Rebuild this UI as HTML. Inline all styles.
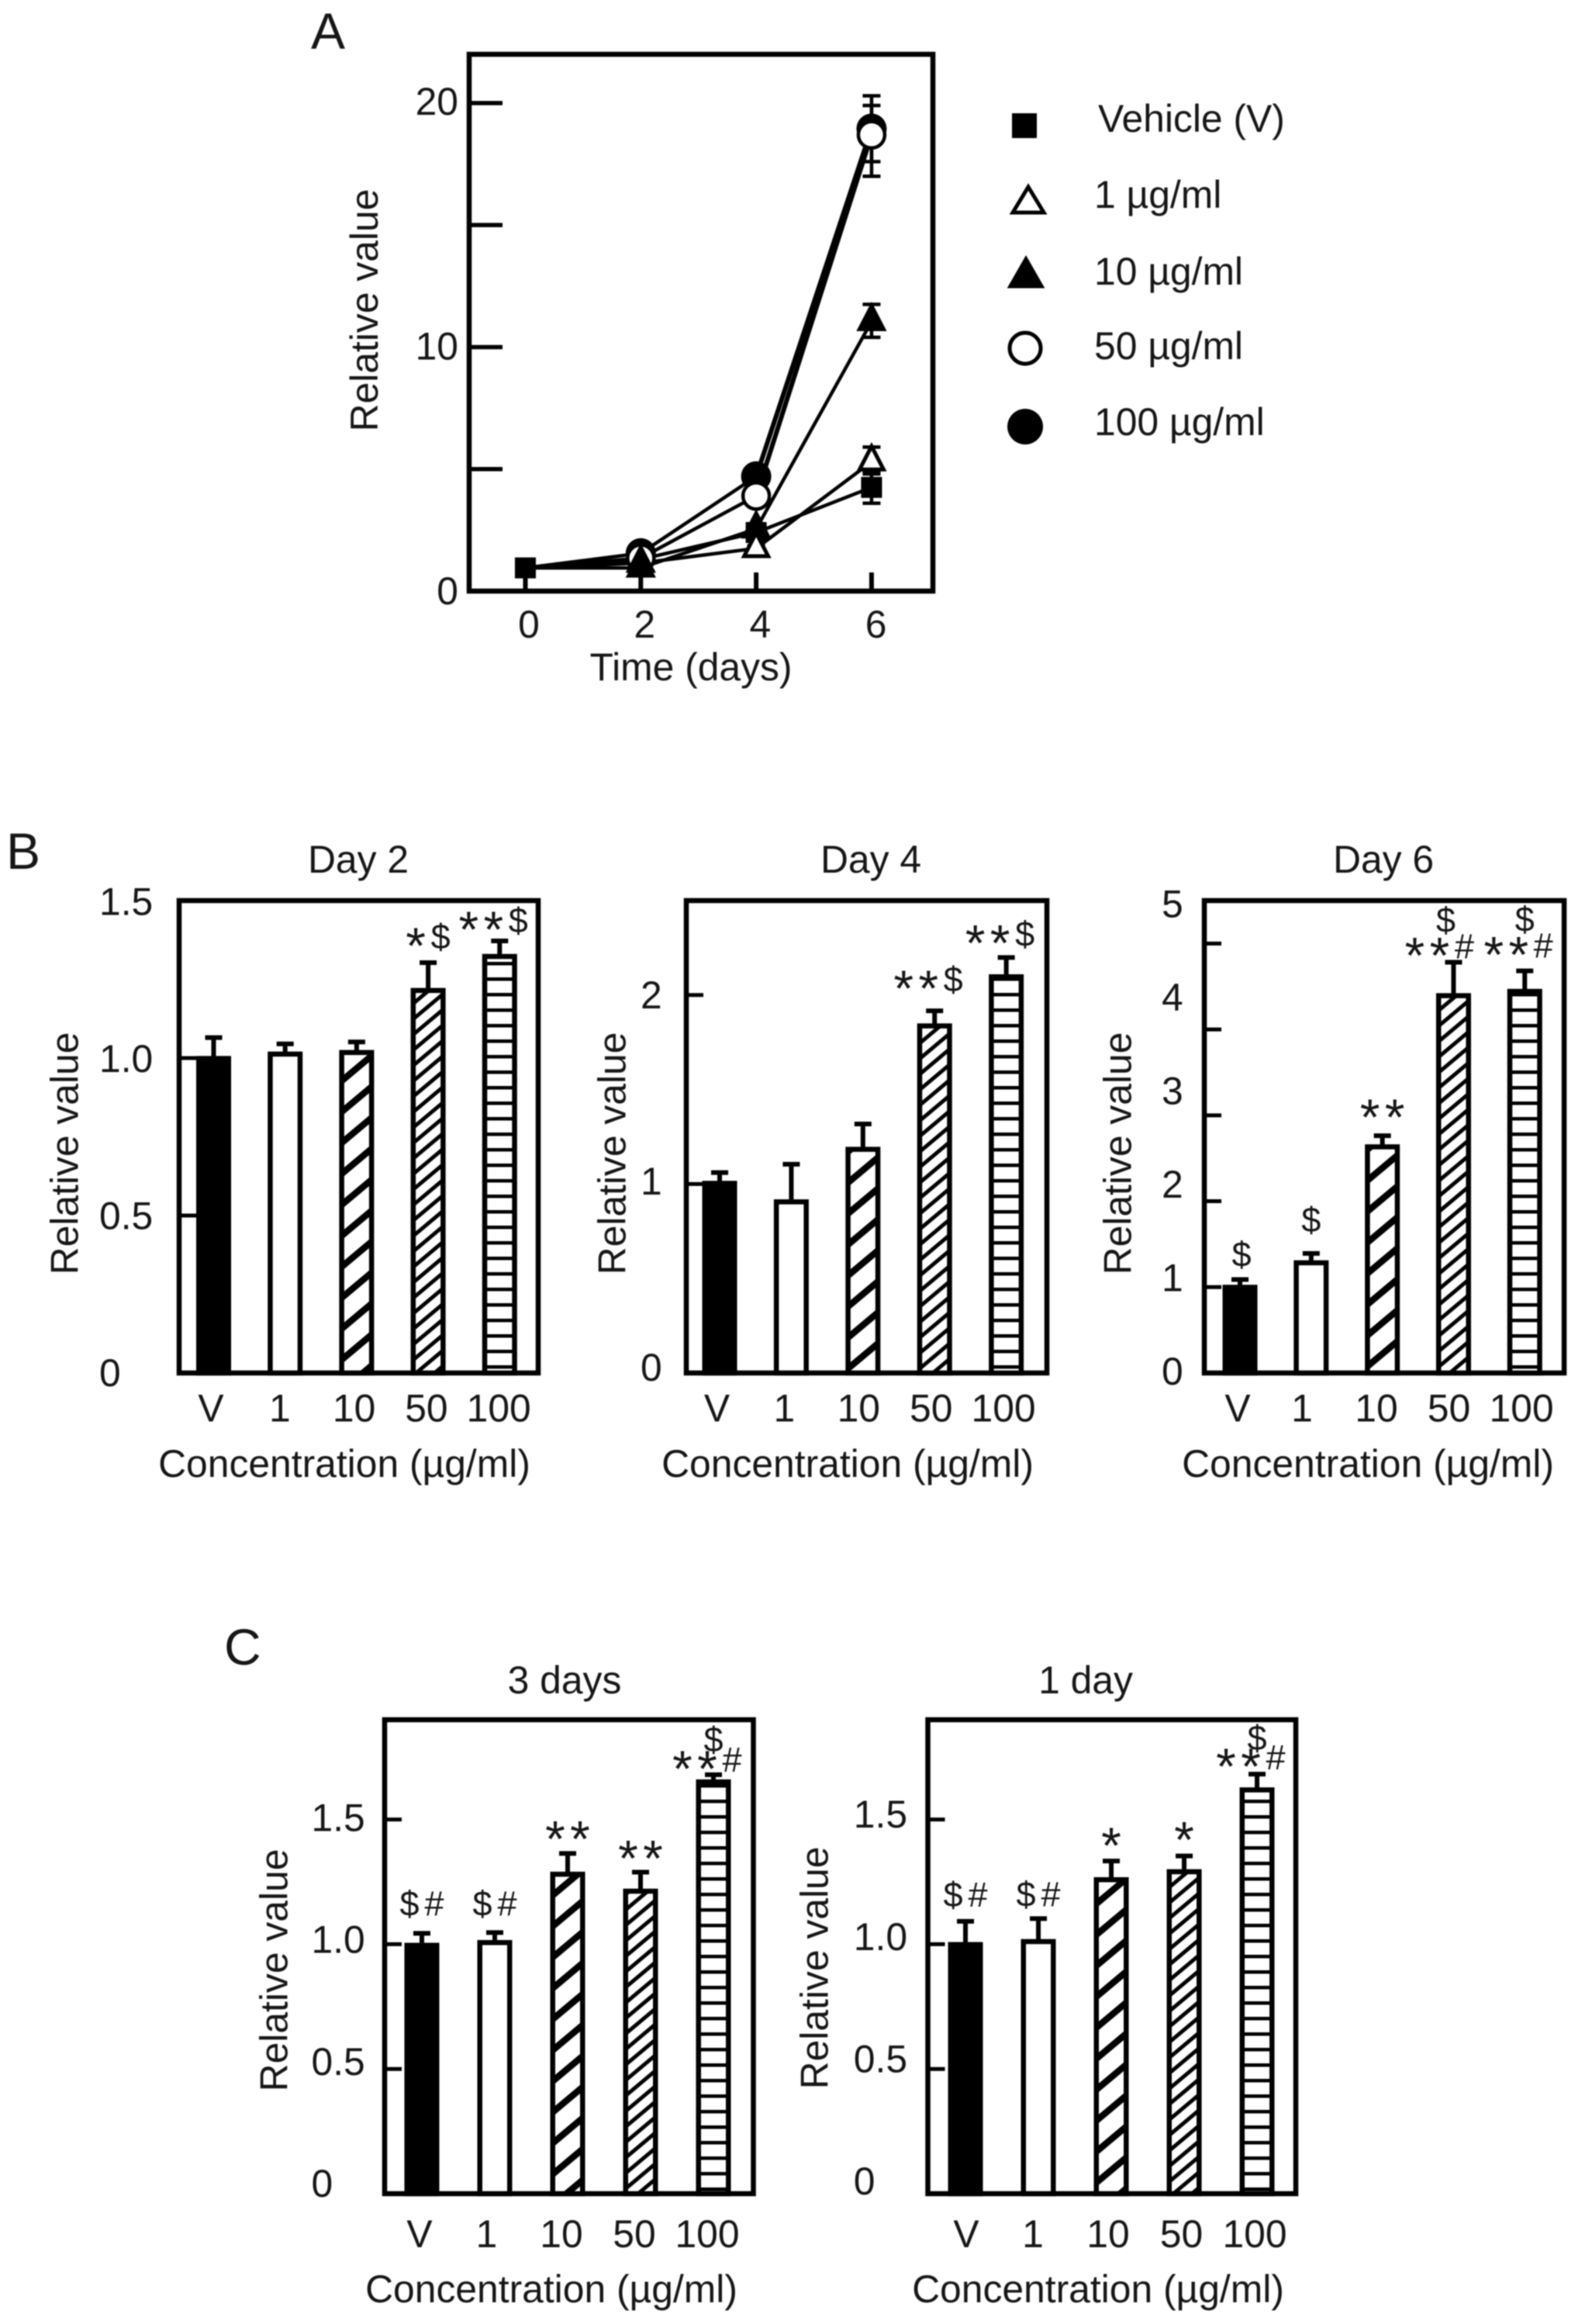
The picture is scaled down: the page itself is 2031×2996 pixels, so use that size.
<!DOCTYPE html>
<html lang="en">
<head>
<meta charset="utf-8">
<title>Relative value by time and concentration</title>
<style>
html,body{margin:0;padding:0;background:#fff;}
body{width:2031px;height:2996px;overflow:hidden;}
svg{display:block;filter:blur(0.8px);}
text{font-family:"Liberation Sans",Arial,sans-serif;font-size:49.8px;fill:#161616;}
.letter{font-size:66px;}
.frame{fill:none;stroke:#000;stroke-width:6.5;}
.mid{text-anchor:middle;}
</style>
</head>
<body>
<svg id="figure" xmlns="http://www.w3.org/2000/svg" width="2031" height="2996" viewBox="0 0 2031 2996">
  <defs>
    <pattern id="hatch-wide" patternUnits="userSpaceOnUse" width="30.6" height="30.6" patternTransform="rotate(-40)">
      <rect width="30.6" height="30.6" fill="#fff"/>
      <rect y="0" width="30.6" height="8.5" fill="#000"/>
    </pattern>
    <pattern id="hatch-fine" patternUnits="userSpaceOnUse" width="15.3" height="15.3" patternTransform="rotate(-40)">
      <rect width="15.3" height="15.3" fill="#fff"/>
      <rect y="0" width="15.3" height="5" fill="#000"/>
    </pattern>
    <pattern id="hatch-horizontal" patternUnits="userSpaceOnUse" width="20" height="20">
      <rect width="20" height="20" fill="#fff"/>
      <rect y="0" width="20" height="4.5" fill="#000"/>
    </pattern>
  </defs>
  <rect width="2031" height="2996" fill="#fff"/>

  <text class="letter" x="401" y="63">A</text>
  <text class="letter" x="8" y="1120">B</text>
  <text class="letter" x="289" y="2146">C</text>

  <g id="panel-a">
    <rect class="frame" x="605" y="70" width="598" height="692"/>
    <text class="mid" transform="translate(487 400) rotate(-90)">Relative value</text>
    <text class="mid" x="891" y="877">Time (days)</text>
  </g>

  <g id="legend">
    <g>
      <rect x="1305" y="146" width="32" height="32" fill="#000"/>
      <text x="1416" y="170">Vehicle (V)</text>
    </g>
    <g>
      <polygon points="1326,241 1346,274 1306,274" fill="#fff" stroke="#000" stroke-width="5"/>
      <text x="1411" y="268">1 µg/ml</text>
    </g>
    <g>
      <polygon points="1323,334 1343,369 1303,369" fill="#000" stroke="#000" stroke-width="5"/>
      <text x="1411" y="367">10 µg/ml</text>
    </g>
    <g>
      <circle cx="1322" cy="449" r="20" fill="#fff" stroke="#000" stroke-width="5"/>
      <text x="1411" y="463">50 µg/ml</text>
    </g>
    <g>
      <circle cx="1322" cy="550" r="23" fill="#000"/>
      <text x="1411" y="561">100 µg/ml</text>
    </g>
  </g>

  <g id="panel-day2">
    <rect class="frame" x="231" y="1161" width="463" height="609"/>
    <text class="mid" x="462" y="1125">Day 2</text>
    <text class="mid" transform="translate(100.5 1487) rotate(-90)">Relative value</text>
    <text class="mid" x="444" y="1904">Concentration (µg/ml)</text>
  </g>
  <g id="panel-day4">
    <rect class="frame" x="885" y="1161" width="465" height="609"/>
    <text class="mid" x="1123" y="1125">Day 4</text>
    <text class="mid" transform="translate(806.5 1487) rotate(-90)">Relative value</text>
    <text class="mid" x="1093" y="1904">Concentration (µg/ml)</text>
  </g>
  <g id="panel-day6">
    <rect class="frame" x="1553" y="1161" width="464" height="609"/>
    <text class="mid" x="1784" y="1125">Day 6</text>
    <text class="mid" transform="translate(1458.5 1487) rotate(-90)">Relative value</text>
    <text class="mid" x="1764" y="1904">Concentration (µg/ml)</text>
  </g>
  <g id="panel-3days">
    <rect class="frame" x="496" y="2217" width="475.5" height="611"/>
    <text class="mid" x="728" y="2183">3 days</text>
    <text class="mid" transform="translate(370.5 2540) rotate(-90)">Relative value</text>
    <text class="mid" x="711" y="2968">Concentration (µg/ml)</text>
  </g>
  <g id="panel-1day">
    <rect class="frame" x="1196.5" y="2217" width="474.5" height="611"/>
    <text class="mid" x="1400" y="2183">1 day</text>
    <text class="mid" transform="translate(1067.5 2537) rotate(-90)">Relative value</text>
    <text class="mid" x="1416" y="2968">Concentration (µg/ml)</text>
  </g>
</svg>

<script>
// ---- Panel A data ----
const growthDays = [0, 2, 4, 6];
const growthYTicks = [5, 10, 15, 20];
const growthYLabels = ['0', '10', '20'];
const vehicleValues = [0.95, 1.3, 2.4, 4.25];
const vehicleUpper = [0.95, 1.35, 2.5, 4.9];
const vehicleLower = [0.95, 1.25, 2.3, 3.6];
const conc1Values = [0.95, 1.15, 1.75, 5.3];
const conc1Upper = [0.95, 1.2, 1.85, 5.9];
const conc1Lower = [0.95, 1.1, 1.65, 4.8];
const conc10Values = [0.95, 0.95, 2.55, 11.05];
const conc10Upper = [0.95, 1, 2.7, 11.75];
const conc10Lower = [0.95, 0.9, 2.4, 10.4];
const conc50Values = [0.95, 1.35, 3.9, 18.7];
const conc50Upper = [0.95, 1.4, 4.1, 19.9];
const conc50Lower = [0.95, 1.3, 3.7, 17];
const conc100Values = [0.95, 1.55, 4.7, 18.95];
const conc100Upper = [0.95, 1.6, 4.9, 20.3];
const conc100Lower = [0.95, 1.5, 4.5, 17.6];

// ---- Bar panel data ----
const barCategories = ['V', '1', '10', '50', '100'];

const day2Values = [1.006, 1.02, 1.025, 1.222, 1.33];
const day2ErrorTops = [1.07, 1.05, 1.056, 1.308, 1.377];
const day2Ticks = [0.5, 1];
const day2TickLabels = ['0', '0.5', '1.0', '1.5'];
const day2Notes = ['', '', '', '*$', '**$'];

const day4Values = [1.016, 0.918, 1.196, 1.849, 2.109];
const day4ErrorTops = [1.069, 1.113, 1.326, 1.925, 2.207];
const day4Ticks = [1, 2];
const day4TickLabels = ['0', '1', '2'];
const day4Notes = ['', '', '', '**$', '**$'];

const day6Values = [1.025, 1.31, 2.66, 4.42, 4.47];
const day6ErrorTops = [1.106, 1.41, 2.78, 4.8, 4.7];
const day6Ticks = [1, 2, 3, 4, 5];
const day6TickLabels = ['0', '1', '2', '3', '4', '5'];
const day6Notes = ['$', '$', '**', '$|**#', '$|**#'];

const threeDaysValues = [1.005, 1.016, 1.29, 1.222, 1.66];
const threeDaysErrorTops = [1.05, 1.053, 1.37, 1.295, 1.686];
const threeDaysTicks = [0.5, 1, 1.5];
const threeDaysTickLabels = ['0', '0.5', '1.0', '1.5'];
const threeDaysNotes = ['$#', '$#', '**', '**', '$|**#'];

const oneDayValues = [1.008, 1.02, 1.268, 1.3, 1.628];
const oneDayErrorTops = [1.098, 1.109, 1.34, 1.36, 1.688];
const oneDayTicks = [0.5, 1, 1.5];
const oneDayTickLabels = ['0', '0.5', '1.0', '1.5'];
const oneDayNotes = ['$#', '$#', '*', '*', '$|**#'];

const SVG_NS = 'http://www.w3.org/2000/svg';

function make(tag, parent, attrs, text) {
  const node = document.createElementNS(SVG_NS, tag);
  for (const key in attrs) node.setAttribute(key, attrs[key]);
  if (text !== undefined) node.textContent = text;
  parent.appendChild(node);
  return node;
}

// ---- Panel A ----
function drawGrowthChart() {
  const group = document.getElementById('panel-a');
  const frame = { left: 605, right: 1203, top: 70, bottom: 762, yMax: 22 };
  const xScale = d => 677.5 + d * 74.4;
  const yScale = v => frame.bottom - v * (frame.bottom - frame.top) / frame.yMax;

  growthYTicks.forEach(v => {
    const tick = make('line', group, { x1: frame.left, x2: frame.left + 43, y1: yScale(v), y2: yScale(v), stroke: '#000', 'stroke-width': 5.5 });
    
    
  });
  growthDays.forEach(d => {
    const tick = make('line', group, { x1: xScale(d), x2: xScale(d), y1: frame.bottom, y2: frame.bottom - 24, stroke: '#000', 'stroke-width': 6 });
    
    
    const label = make('text', group, { x: 682 + d * 74.6, y: 822, 'text-anchor': 'middle' }, String(d));
    
    
  });
  growthYLabels.forEach((txt, i) => {
    const label = make('text', group, { x: 591, y: 779 - i * 315.5, 'text-anchor': 'end' }, txt);
    
    
  });

  const series = [
    { key: 'vehicle', values: vehicleValues, upper: vehicleUpper, lower: vehicleLower, shape: 'square', fill: '#000' },
    { key: '1-ug-ml', values: conc1Values, upper: conc1Upper, lower: conc1Lower, shape: 'triangle', fill: '#fff' },
    { key: '10-ug-ml', values: conc10Values, upper: conc10Upper, lower: conc10Lower, shape: 'triangle', fill: '#000' },
    { key: '50-ug-ml', values: conc50Values, upper: conc50Upper, lower: conc50Lower, shape: 'circle', fill: '#fff' },
    { key: '100-ug-ml', values: conc100Values, upper: conc100Upper, lower: conc100Lower, shape: 'circle', fill: '#000' }
  ];

  series.forEach(s => {
    for (let i = 0; i < s.values.length - 1; i++) {
      const heavy = s.shape === 'circle' && i === s.values.length - 2;
      const segment = make('line', group, {
        x1: xScale(growthDays[i]), y1: yScale(s.values[i]),
        x2: xScale(growthDays[i + 1]), y2: yScale(s.values[i + 1]),
        stroke: '#000', 'stroke-width': heavy ? 6 : 4.5, 'stroke-linecap': 'round'
      });
      
      
    }
  });

  series.forEach(s => {
    s.values.forEach((v, i) => {
      const x = xScale(growthDays[i]);
      const err = make('path', group, {
        d: 'M' + x + ' ' + yScale(s.lower[i]) + 'V' + yScale(s.upper[i]) +
           'M' + (x - 11.5) + ' ' + yScale(s.upper[i]) + 'H' + (x + 11.5) +
           'M' + (x - 11.5) + ' ' + yScale(s.lower[i]) + 'H' + (x + 11.5),
        fill: 'none', stroke: '#000', 'stroke-width': 4.5
      });
      
      
    });
  });

  function drawMarker(s, dayIndex) {
    const x = xScale(growthDays[dayIndex]);
    const y = yScale(s.values[dayIndex]);
    let mark;
    if (s.shape === 'square') {
      mark = make('rect', group, { x: x - 13.5, y: y - 13.5, width: 27, height: 27, fill: '#000' });
    } else if (s.shape === 'triangle') {
      const pts = x + ',' + (y - 20) + ' ' + (x + 15.5) + ',' + (y + 10) + ' ' + (x - 15.5) + ',' + (y + 10);
      mark = make('polygon', group, { points: pts, fill: s.fill, stroke: '#000', 'stroke-width': 5 });
    } else {
      mark = make('circle', group, { cx: x, cy: y, r: s.fill === '#000' ? 19.5 : 17, fill: s.fill, stroke: '#000', 'stroke-width': s.fill === '#000' ? 0 : 4.5 });
    }
    
    
  }

  // Shared baseline: at day 0 every group coincides and only the vehicle square shows.
  drawMarker(series[0], 0);
  // Day 2: filled circle, open circle, open triangle, then filled triangle on top.
  [0, 4, 3, 1, 2].forEach(k => drawMarker(series[k], 1));
  // Day 4: the open triangle overlaps the filled triangle.
  [0, 4, 3, 2, 1].forEach(k => drawMarker(series[k], 2));
  // Day 6
  [0, 1, 2, 4, 3].forEach(k => drawMarker(series[k], 3));
}

// ---- Bar panels ----
const barFills = ['#000', '#fff', 'url(#hatch-wide)', 'url(#hatch-fine)', 'url(#hatch-horizontal)'];

function drawNoteGlyph(group, ch, x, cy) {
  const isStar = ch === '*';
  const size = isStar ? 66 : 45;
  const base = isStar ? cy + 34 : cy + 15;
  const glyph = make('text', group, { x: x, y: base, 'text-anchor': 'middle', style: 'font-size:' + size + 'px' }, ch);
  
  
}

function drawBarChart(panelId, cfg, values, errorTops, ticks, tickLabels, notes) {
  const group = document.getElementById(panelId);
  const yScale = v => cfg.bottom - v * (cfg.bottom - cfg.top) / cfg.yMax;
  const xScale = i => cfg.barX0 + i * cfg.barStep;

  ticks.forEach(v => {
    const tick = make('line', group, { x1: cfg.left, x2: cfg.left + 22, y1: yScale(v), y2: yScale(v), stroke: '#000', 'stroke-width': 5 });
    
    
  });

  tickLabels.forEach((txt, i) => {
    const label = make('text', group, { x: cfg.yLabelX, y: cfg.yLabelBase - i * cfg.yLabelStep }, txt);
    
    
  });

  barCategories.forEach((cat, i) => {
    const cx = xScale(i);
    const top = yScale(values[i]);
    const errTop = yScale(errorTops[i]);

    const stem = make('line', group, { x1: cx, x2: cx, y1: top, y2: errTop, stroke: '#000', 'stroke-width': 6 });
    
    

    const cap = make('line', group, { x1: cx - 11, x2: cx + 11, y1: errTop + 2, y2: errTop + 2, stroke: '#000', 'stroke-width': 6 });
    
    

    const bar = make('rect', group, { x: cx - 19.25, y: top + 3, width: 38.5, height: cfg.bottom - top - 3, fill: barFills[i], stroke: '#000', 'stroke-width': 6.5 });
    
    

    const label = make('text', group, { x: cfg.labelX0 + i * cfg.labelStep + cfg.labelNudge * (i === 0 ? 1 : 0) + (i === 1 ? -2.5 : 0), y: cfg.xLabelBase, 'text-anchor': 'middle' }, cat);
    
    

    if (notes[i]) {
      const rows = notes[i].split('|');
      const bottomRow = errTop - cfg.noteGaps[i];
      const shift = cfg.noteShifts ? cfg.noteShifts[i] : 0;
      rows.forEach((row, r) => {
        const cy = bottomRow - (rows.length - 1 - r) * cfg.rowGap;
        const rowShift = shift + (row.length === 3 ? -8 : 0);
        [...row].forEach((ch, k) => {
          drawNoteGlyph(group, ch, cx + rowShift + (k - (row.length - 1) / 2) * 32, cy);
        });
      });
    }
  });
}

drawGrowthChart();

drawBarChart('panel-day2', {
  left: 231, top: 1161, bottom: 1770, yMax: 1.5,
  barX0: 275.5, barStep: 92.2, labelX0: 270, labelStep: 93.3, labelNudge: 2, xLabelBase: 1832.5,
  yLabelX: 128, yLabelBase: 1787, yLabelStep: 202.5,
  noteGaps: [0, 0, 0, 31, 24], rowGap: 30
}, day2Values, day2ErrorTops, day2Ticks, day2TickLabels, day2Notes);

drawBarChart('panel-day4', {
  left: 885, top: 1161, bottom: 1770, yMax: 2.5,
  barX0: 928, barStep: 92.4, labelX0: 920.5, labelStep: 93.4, labelNudge: 4, xLabelBase: 1832.5,
  yLabelX: 826, yLabelBase: 1780, yLabelStep: 240,
  noteGaps: [0, 0, 0, 38, 28], rowGap: 30
}, day4Values, day4ErrorTops, day4Ticks, day4TickLabels, day4Notes);

drawBarChart('panel-day6', {
  left: 1553, top: 1161, bottom: 1770, yMax: 5.5,
  barX0: 1599, barStep: 91.8, labelX0: 1588, labelStep: 93.5, labelNudge: 8, xLabelBase: 1832.5,
  yLabelX: 1498, yLabelBase: 1785, yLabelStep: 120.5,
  noteGaps: [30, 41, 33, 18, 30], noteShifts: [2, 0, 0, -10, 0], rowGap: 34
}, day6Values, day6ErrorTops, day6Ticks, day6TickLabels, day6Notes);

drawBarChart('panel-3days', {
  left: 496, top: 2217, bottom: 2828, yMax: 1.9,
  barX0: 544, barStep: 94, labelX0: 536, labelStep: 94, labelNudge: 5, xLabelBase: 2897,
  yLabelX: 401.5, yLabelBase: 2832, yLabelStep: 157.2,
  noteGaps: [36, 35, 28, 27, 17], rowGap: 26
}, threeDaysValues, threeDaysErrorTops, threeDaysTicks, threeDaysTickLabels, threeDaysNotes);

drawBarChart('panel-1day', {
  left: 1196.5, top: 2217, bottom: 2828, yMax: 1.9,
  barX0: 1245, barStep: 94, labelX0: 1240, labelStep: 94.5, labelNudge: 6, xLabelBase: 2897,
  yLabelX: 1100.8, yLabelBase: 2829, yLabelStep: 157.6,
  noteGaps: [32, 29, 29, 30, 19], rowGap: 25
}, oneDayValues, oneDayErrorTops, oneDayTicks, oneDayTickLabels, oneDayNotes);
</script>
</body>
</html>
